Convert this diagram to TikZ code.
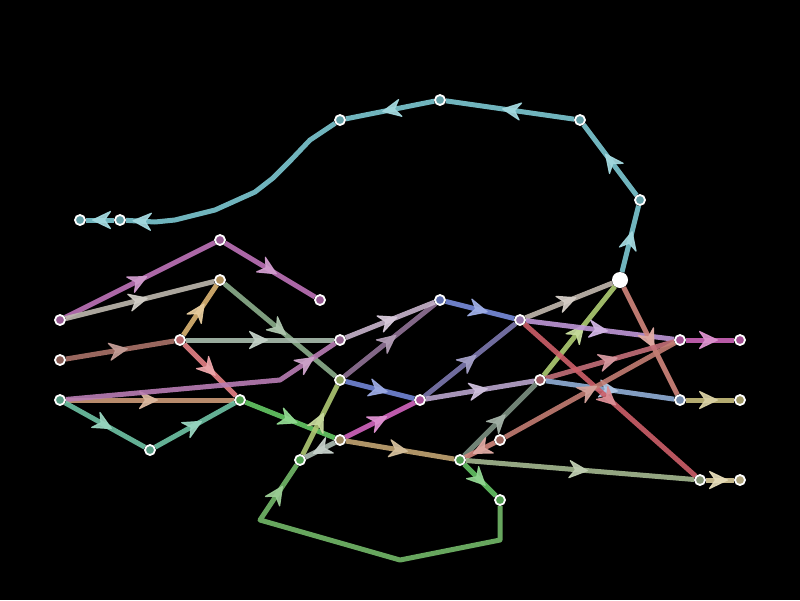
\documentclass[tikz,border=0pt]{standalone}
\usetikzlibrary{decorations.markings,arrows.meta}
\pgfdeclarelayer{back}
\pgfdeclarelayer{bg}
\pgfsetlayers{back,bg,main}
\definecolor{cCy}{RGB}{125,200,210}
\definecolor{cPu}{RGB}{190,115,185}
\definecolor{cCD}{RGB}{190,185,175}
\definecolor{cDK}{RGB}{140,175,140}
\definecolor{cFD}{RGB}{220,180,115}
\definecolor{cEF}{RGB}{170,115,105}
\definecolor{cFG}{RGB}{170,190,175}
\definecolor{cFI}{RGB}{230,130,135}
\definecolor{cHI}{RGB}{205,155,120}
\definecolor{cHG}{RGB}{185,125,180}
\definecolor{cTe}{RGB}{110,195,165}
\definecolor{cIW}{RGB}{100,200,100}
\definecolor{cXK}{RGB}{175,200,115}
\definecolor{cWX}{RGB}{175,190,180}
\definecolor{cKO}{RGB}{115,135,215}
\definecolor{cKL}{RGB}{145,115,150}
\definecolor{cGL}{RGB}{200,180,205}
\definecolor{cLM}{RGB}{120,140,220}
\definecolor{cOM}{RGB}{125,120,175}
\definecolor{cWO}{RGB}{210,100,190}
\definecolor{cOP}{RGB}{185,165,205}
\definecolor{cWY}{RGB}{195,165,115}
\definecolor{cYP}{RGB}{125,145,130}
\definecolor{cZY}{RGB}{210,135,125}
\definecolor{cYA}{RGB}{100,195,100}
\definecolor{cLo}{RGB}{115,185,105}
\definecolor{cYU}{RGB}{165,185,145}
\definecolor{cUV}{RGB}{220,205,155}
\definecolor{cMN}{RGB}{195,185,175}
\definecolor{cPN}{RGB}{175,205,115}
\definecolor{cMQ}{RGB}{190,150,215}
\definecolor{cQR}{RGB}{205,100,185}
\definecolor{cNS}{RGB}{210,135,125}
\definecolor{cST}{RGB}{200,190,125}
\definecolor{cPQ}{RGB}{195,110,120}
\definecolor{cPS}{RGB}{145,175,215}
\definecolor{cMU}{RGB}{205,95,105}
\definecolor{cZQ}{RGB}{195,125,115}
\tikzset{
  ln/.style={draw=#1, line width=5pt, draw opacity=0.9, line join=round},
  arr/.style={postaction={decorate, decoration={markings, mark=at position 0.5 with {\arrow[xshift=8pt, color=#1!70!white, opacity=0.92]{Stealth[length=21pt,width=20pt,inset=7pt,line width=1.2pt,round]}}}}},
  ed/.style={ln=#1, arr=#1},
  nd/.style={circle, draw=white, line width=1.8pt, inner sep=0pt, minimum size=10pt, fill=#1!80!black},
}
\begin{document}
\begin{tikzpicture}[x=1pt,y=-1pt]
\begin{pgfonlayer}{back}
\fill[black] (0,0) rectangle (800,600);
\end{pgfonlayer}
\useasboundingbox (0,0) rectangle (800,600);
% nodes
\node[nd=cCy] (n1) at (80,220) {};
\node[nd=cCy] (n2) at (120,220) {};
\node[nd=cCy] (n3) at (340,120) {};
\node[nd=cCy] (n4) at (440,100) {};
\node[nd=cCy] (n5) at (580,120) {};
\node[nd=cCy] (n6) at (640,200) {};
\node[circle, fill=white, inner sep=0pt, minimum size=16pt] (n7) at (620,280) {};
\node[nd=cPu] (A) at (220,240) {};
\node[nd=cPu] (B) at (320,300) {};
\node[nd=cPu] (C) at (60,320) {};
\node[nd=cFD] (D) at (220,280) {};
\node[nd=cEF] (E) at (60,360) {};
\node[nd=cFI] (F) at (180,340) {};
\node[nd=cHG] (G) at (340,340) {};
\node[nd=cTe] (H) at (60,400) {};
\node[nd=cIW] (I) at (240,400) {};
\node[nd=cTe] (J) at (150,450) {};
\node[nd=cXK] (K) at (340,380) {};
\node[nd=cLM] (L) at (440,300) {};
\node[nd=cMQ] (M) at (520,320) {};
\node[nd=cWO] (O) at (420,400) {};
\node[nd=cPQ] (P) at (540,380) {};
\node[nd=cQR] (Q) at (680,340) {};
\node[nd=cQR] (R) at (740,340) {};
\node[nd=cPS] (S) at (680,400) {};
\node[nd=cST] (T) at (740,400) {};
\node[nd=cYU] (U) at (700,480) {};
\node[nd=cUV] (V) at (740,480) {};
\node[nd=cWY] (W) at (340,440) {};
\node[nd=cIW] (X) at (300,460) {};
\node[nd=cYA] (Y) at (460,460) {};
\node[nd=cZQ] (Z) at (500,440) {};
\node[nd=cYA] (AA) at (500,500) {};
\begin{pgfonlayer}{bg}
% cyan chain
\draw[ed=cCy] (n7) -- (n6);
\draw[ed=cCy] (n6) -- (n5);
\draw[ed=cCy] (n5) -- (n4);
\draw[ed=cCy] (n4) -- (n3);
\draw[ln=cCy] (n3) -- (310,140) -- (291,160) -- (273,178) -- (255,192) -- (215,210) -- (175,220) -- (155,222) -- (n2);
\path[arr=cCy] (155,222) -- (n2);
\draw[ed=cCy] (n2) -- (n1);
% left part
\draw[ed=cPu] (C) -- (A);
\draw[ed=cPu] (A) -- (B);
\draw[ed=cCD] (C) -- (D);
\draw[ed=cDK] (D) -- (K);
\draw[ed=cFD] (F) -- (D);
\draw[ed=cEF] (E) -- (F);
\draw[ed=cFG] (F) -- (G);
\draw[ed=cFI] (F) -- (I);
\draw[ed=cHI] (H) -- (I);
\draw[ln=cHG] (H) -- (280,380) -- (G);
\path[arr=cHG] (280,380) -- (G);
\draw[ed=cTe] (H) -- (J);
\draw[ed=cTe] (J) -- (I);
\draw[ed=cIW] (I) -- (W);
\draw[ed=cXK] (X) -- (K);
\draw[ed=cWX] (W) -- (X);
% middle
\draw[ed=cKO] (K) -- (O);
\draw[ed=cKL] (K) -- (L);
\draw[ed=cGL] (G) -- (L);
\draw[ed=cLM] (L) -- (M);
\draw[ed=cOM] (O) -- (M);
\draw[ed=cWO] (W) -- (O);
\draw[ed=cOP] (O) -- (P);
\draw[ed=cWY] (W) -- (Y);
\draw[ed=cYP] (Y) -- (P);
\draw[ed=cZY] (Z) -- (Y);
\draw[ed=cYA] (Y) -- (AA);
\draw[ln=cLo] (AA) -- (500,540) -- (400,560) -- (260,520) -- (X);
\path[arr=cLo] (260,520) -- (X);
\draw[ed=cYU] (Y) -- (U);
\draw[ed=cUV] (U) -- (V);
% right
\draw[ed=cMN] (M) -- (n7);
\draw[ed=cPN] (P) -- (n7);
\draw[ed=cMQ] (M) -- (Q);
\draw[ed=cQR] (Q) -- (R);
\draw[ed=cNS] (n7) -- (S);
\draw[ed=cST] (S) -- (T);
\draw[ed=cPQ] (P) -- (Q);
\draw[ed=cPS] (P) -- (S);
\draw[ed=cMU] (M) -- (U);
\draw[ed=cZQ] (Z) -- (Q);
\end{pgfonlayer}
\end{tikzpicture}
\end{document}
